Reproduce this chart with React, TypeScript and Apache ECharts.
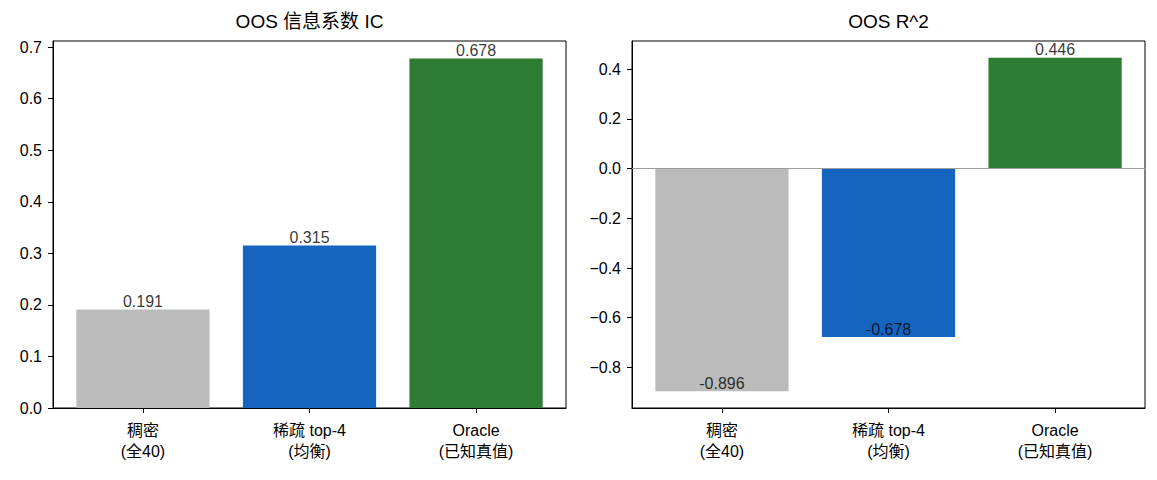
import React, { useEffect, useRef } from "react";
import * as echarts from "echarts";

// ---- data ----
const categories = ["稠密\n(全40)", "稀疏 top-4\n(均衡)", "Oracle\n(已知真值)"];
const positions = [0, 1, 2];
const icValues = [0.191, 0.315, 0.678];
const r2Values = [-0.896, -0.678, 0.446];
const barColors = ["#bbbbbb", "#1565c0", "#2e7d32"];
const icTicks = [0, 0.1, 0.2, 0.3, 0.4, 0.5, 0.6, 0.7];
const r2Ticks = [-0.8, -0.6, -0.4, -0.2, 0, 0.2, 0.4];
const titles = ["OOS 信息系数 IC", "OOS R^2"];

const FONT = "'Liberation Sans', 'Noto Sans CJK SC', sans-serif";
const BAR_FRAC = 0.8;
const MARGIN = 0.05;

function limits(vals: number[]): [number, number] {
  const lo = Math.min(0, ...vals);
  const hi = Math.max(0, ...vals);
  const span = hi - lo;
  let mn = lo - span * MARGIN;
  let mx = hi + span * MARGIN;
  // bars are sticky at zero
  if (lo === 0) mn = 0;
  if (hi === 0) mx = 0;
  return [mn, mx];
}

const xMin = positions[0] - BAR_FRAC / 2 - (positions.length - 1 + BAR_FRAC) * MARGIN;
const xMax = positions[positions.length - 1] + BAR_FRAC / 2 + (positions.length - 1 + BAR_FRAC) * MARGIN;

const GRID_W = 513;
const GRID_H = 367;
const GRIDS = [
  { left: 53, top: 41 },
  { left: 632, top: 41 },
];

const fmtTick = (v: number) => v.toFixed(1).replace("-", "\u2212");

export default function App() {
  const ref = useRef<HTMLDivElement>(null);

  useEffect(() => {
    if (!ref.current) return;
    const chart = echarts.init(ref.current, undefined, { renderer: "svg" });
    const barWidth = (BAR_FRAC * GRID_W) / (xMax - xMin);
    const panels = [
      { values: icValues, ticks: icTicks, lim: limits(icValues), zeroLine: false },
      { values: r2Values, ticks: r2Ticks, lim: limits(r2Values), zeroLine: true },
    ];

    const option: any = {
      animation: false,
      backgroundColor: "#ffffff",
      textStyle: { fontFamily: FONT },
      title: panels.map((_, i) => ({
        text: titles[i],
        left: GRIDS[i].left + GRID_W / 2,
        top: 12,
        padding: 0,
        textAlign: "center",
        textStyle: { fontSize: 19, fontWeight: "normal", color: "#000", fontFamily: FONT },
      })),
      grid: GRIDS.map((g) => ({
        left: g.left,
        top: g.top,
        width: GRID_W,
        height: GRID_H,
        show: true,
        borderColor: "#000",
        borderWidth: 1,
        backgroundColor: "transparent",
        containLabel: false,
      })),
      xAxis: panels.map((_, i) => ({
        type: "value",
        gridIndex: i,
        min: xMin,
        max: xMax,
        splitLine: { show: false },
        axisLine: { show: true, onZero: false, lineStyle: { color: "#000", width: 1 } },
        axisTick: {
          show: true,
          customValues: positions,
          length: 5,
          lineStyle: { color: "#000", width: 1 },
        },
        axisLabel: {
          show: true,
          customValues: positions,
          formatter: (v: number) => categories[Math.round(v)],
          fontSize: 16,
          lineHeight: 21,
          margin: 12,
          color: "#000",
          fontFamily: FONT,
          align: "center",
        },
      })),
      yAxis: panels.map((p, i) => ({
        type: "value",
        gridIndex: i,
        min: p.lim[0],
        max: p.lim[1],
        splitLine: { show: false },
        axisLine: { show: true, onZero: false, lineStyle: { color: "#000", width: 1 } },
        axisTick: {
          show: true,
          customValues: p.ticks,
          length: 5,
          lineStyle: { color: "#000", width: 1 },
        },
        axisLabel: {
          show: true,
          customValues: p.ticks,
          formatter: (v: number) => fmtTick(v),
          fontSize: 16,
          margin: 11,
          color: "#000",
          fontFamily: FONT,
        },
      })),
      series: [
        ...panels.map((p, i) => ({
          type: "bar",
          xAxisIndex: i,
          yAxisIndex: i,
          barWidth,
          data: positions.map((x, j) => ({
            value: [x, p.values[j]],
            itemStyle: { color: barColors[j] },
          })),
          silent: true,
          z: 2,
          markLine: p.zeroLine
            ? {
                silent: true,
                symbol: ["none", "none"],
                label: { show: false },
                lineStyle: { color: "#9e9e9e", width: 1, type: "solid" },
                data: [{ yAxis: 0 }],
                z: 3,
              }
            : undefined,
        })),
        ...panels.map((p, i) => ({
          type: "scatter",
          xAxisIndex: i,
          yAxisIndex: i,
          symbolSize: 0,
          itemStyle: { color: "transparent" },
          silent: true,
          z: 5,
          data: positions.map((x, j) => [x, p.values[j]]),
          label: {
            show: true,
            position: "top",
            distance: 0,
            formatter: (d: any) => d.value[1].toFixed(3),
            fontSize: 16,
            color: "#000",
            fontFamily: FONT,
          },
        })),
      ],
    };
    chart.setOption(option);
    return () => chart.dispose();
  }, []);

  return (
    <div
      ref={ref}
      style={{ position: "fixed", left: 0, top: 0, width: 1157, height: 480, background: "#fff" }}
    />
  );
}
